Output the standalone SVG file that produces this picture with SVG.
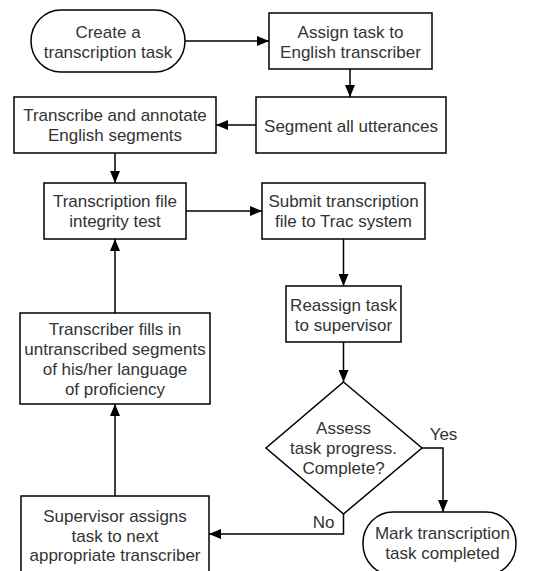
<svg xmlns="http://www.w3.org/2000/svg" width="536" height="571" viewBox="0 0 536 571">
<defs>
<marker id="ah" viewBox="0 0 12 10" refX="12" refY="5" markerWidth="12" markerHeight="10" markerUnits="userSpaceOnUse" orient="auto">
<path d="M0,0 L12,5 L0,10 Z" fill="#000"/>
</marker>
<style>
.n{fill:#fff;stroke:#000;stroke-width:1.5}
.t{font-family:"Liberation Sans",Arial,sans-serif;font-size:17px;fill:#333;text-anchor:middle}
.c{fill:none;stroke:#000;stroke-width:1.5;marker-end:url(#ah)}
.c2{fill:none;stroke:#000;stroke-width:1.5}
</style>
</defs>
<rect width="536" height="571" fill="#fff"/>
<g id="connectors">
<path class="c" d="M185,41 H269"/>
<path class="c" d="M350,69 V97"/>
<path class="c" d="M256,125 H216"/>
<path class="c" d="M115,153 V183"/>
<path class="c" d="M186,211 H262"/>
<path class="c" d="M343.5,239 V286"/>
<path class="c" d="M343.5,342 V382"/>
<path class="c" d="M422,448 H443 V512"/>
<path class="c" d="M343.5,514 V534 H209"/>
<path class="c" d="M115,313 V239"/>
<path class="c" d="M115,496 V404"/>
</g>
<g id="create">
<rect class="n" x="31" y="10" width="154" height="62" rx="30" ry="31"/>
<text class="t" x="108" y="38">Create a</text>
<text class="t" x="108" y="58">transcription task</text>
</g>
<g id="assign">
<rect class="n" x="269" y="13" width="163" height="56"/>
<text class="t" x="350.5" y="38">Assign task to</text>
<text class="t" x="350.5" y="58">English transcriber</text>
</g>
<g id="segment">
<rect class="n" x="256" y="97" width="190" height="56"/>
<text class="t" x="351" y="132">Segment all utterances</text>
</g>
<g id="transcribe">
<rect class="n" x="14" y="97" width="202" height="56"/>
<text class="t" x="115" y="121">Transcribe and annotate</text>
<text class="t" x="115" y="141">English segments</text>
</g>
<g id="integrity">
<rect class="n" x="44" y="183" width="142" height="56"/>
<text class="t" x="115" y="207">Transcription file</text>
<text class="t" x="115" y="227">integrity test</text>
</g>
<g id="submit">
<rect class="n" x="262" y="183" width="163" height="56"/>
<text class="t" x="343.5" y="207">Submit transcription</text>
<text class="t" x="343.5" y="227">file to Trac system</text>
</g>
<g id="reassign">
<rect class="n" x="286" y="286" width="115" height="56"/>
<text class="t" x="343.5" y="311">Reassign task</text>
<text class="t" x="343.5" y="331">to supervisor</text>
</g>
<g id="fills">
<rect class="n" x="20" y="313" width="190" height="91"/>
<text class="t" x="115" y="335">Transcriber fills in</text>
<text class="t" x="115" y="355">untranscribed segments</text>
<text class="t" x="115" y="375">of his/her language</text>
<text class="t" x="115" y="395">of proficiency</text>
</g>
<g id="assess">
<path class="n" d="M343.5,382 L422,448 L343.5,514 L266,448 Z"/>
<text class="t" x="343.5" y="434">Assess</text>
<text class="t" x="343.5" y="454">task progress.</text>
<text class="t" x="343.5" y="474">Complete?</text>
</g>
<g id="labels">
<text class="t" x="443.5" y="440">Yes</text>
<text class="t" x="323.5" y="528">No</text>
</g>
<g id="supervisor">
<rect class="n" x="21" y="496" width="188" height="80"/>
<text class="t" x="115" y="522">Supervisor assigns</text>
<text class="t" x="115" y="542">task to next</text>
<text class="t" x="115" y="561">appropriate transcriber</text>
</g>
<g id="mark">
<rect class="n" x="363" y="512" width="153" height="63" rx="30" ry="31"/>
<text class="t" x="442.5" y="539">Mark transcription</text>
<text class="t" x="442.5" y="559">task completed</text>
</g>
</svg>
